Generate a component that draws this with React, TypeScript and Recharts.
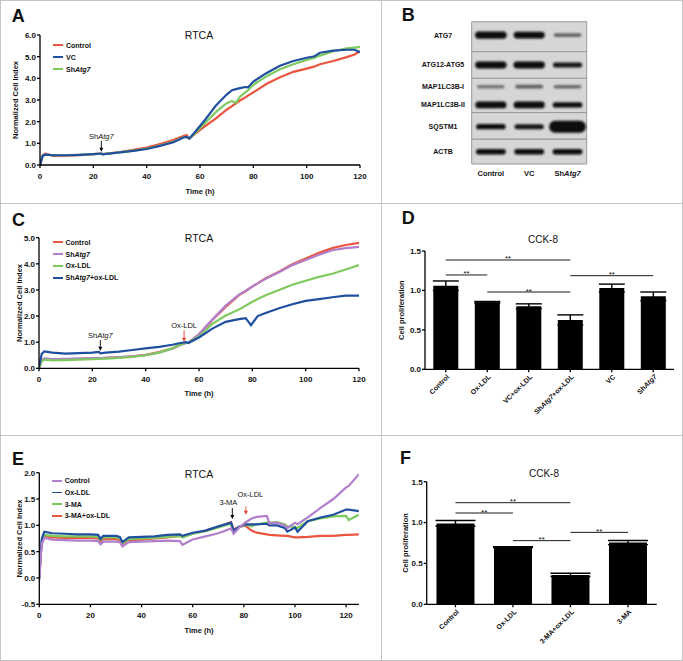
import React from "react";
import {
  Bar,
  BarChart,
  ErrorBar,
  Legend,
  Line,
  LineChart,
  ReferenceArea,
  ReferenceDot,
  ReferenceLine,
  Scatter,
  ScatterChart,
  XAxis,
  YAxis,
} from "recharts";

const FONT = "'Liberation Sans', Arial, Helvetica, sans-serif";
const RED = "#e9553f";
const BLUE = "#1f4f9e";
const GREEN = "#7fca5f";
const PURPLE = "#b17fcc";

// ---------- A: RTCA, control / VC / shAtg7 ----------
const timeA = [0, 1, 2, 5, 10, 15, 20, 23, 23.5, 30, 35, 40, 45, 50, 54, 55, 56, 58, 62, 66, 70, 72, 73.5, 75, 77, 78, 80, 85, 90, 95, 100, 103, 105, 110, 115, 118, 120];
const ctrlA = [0, 0.45, 0.52, 0.42, 0.43, 0.46, 0.5, 0.52, 0.5, 0.6, 0.7, 0.8, 0.97, 1.15, 1.35, 1.38, 1.22, 1.42, 1.8, 2.15, 2.55, 2.72, 2.85, 2.98, 3.12, 3.2, 3.35, 3.75, 4.05, 4.3, 4.45, 4.55, 4.65, 4.8, 4.98, 5.1, 5.25];
const vcA = [0, 0.42, 0.48, 0.45, 0.45, 0.47, 0.5, 0.53, 0.49, 0.58, 0.65, 0.74, 0.88, 1.05, 1.28, 1.3, 1.22, 1.5, 2.1, 2.75, 3.25, 3.45, 3.5, 3.55, 3.6, 3.58, 3.85, 4.25, 4.58, 4.8, 4.95, 5.02, 5.18, 5.28, 5.32, 5.32, 5.2];
const shA = [0, 0.42, 0.47, 0.45, 0.45, 0.47, 0.5, 0.53, 0.5, 0.58, 0.66, 0.75, 0.9, 1.07, 1.28, 1.3, 1.22, 1.45, 1.95, 2.45, 2.85, 2.95, 2.88, 3.15, 3.35, 3.45, 3.7, 4.1, 4.42, 4.65, 4.85, 4.95, 5.05, 5.25, 5.38, 5.42, 5.45];

// ---------- C: RTCA, shAtg7 + ox-LDL ----------
const timeC = [0, 1, 2, 5, 10, 15, 20, 22.5, 23, 25, 30, 35, 40, 45, 50, 53, 55, 56, 60, 65, 70, 75, 77.5, 79.5, 82, 85, 90, 95, 100, 105, 110, 115, 120];
const ctrlC = [0, 0.3, 0.35, 0.34, 0.35, 0.36, 0.38, 0.39, 0.38, 0.4, 0.42, 0.46, 0.52, 0.62, 0.77, 0.9, 0.97, 0.98, 1.3, 1.85, 2.35, 2.8, 2.95, 3.1, 3.25, 3.45, 3.7, 3.98, 4.2, 4.42, 4.6, 4.72, 4.8];
const shC = [0, 0.32, 0.38, 0.35, 0.36, 0.37, 0.39, 0.4, 0.38, 0.4, 0.43, 0.46, 0.5, 0.6, 0.75, 0.88, 0.97, 0.98, 1.3, 1.87, 2.4, 2.82, 2.97, 3.1, 3.25, 3.43, 3.68, 3.95, 4.15, 4.35, 4.52, 4.6, 4.65];
const oxC = [0, 0.28, 0.33, 0.3, 0.31, 0.33, 0.35, 0.36, 0.36, 0.37, 0.4, 0.44, 0.5, 0.6, 0.77, 0.9, 0.97, 0.98, 1.22, 1.7, 2.02, 2.25, 2.4, 2.52, 2.65, 2.8, 3.0, 3.2, 3.35, 3.5, 3.62, 3.78, 3.95];
const shOxC = [0.05, 0.55, 0.65, 0.6, 0.56, 0.58, 0.6, 0.63, 0.57, 0.6, 0.64, 0.7, 0.76, 0.82, 0.9, 0.97, 1.0, 0.97, 1.18, 1.52, 1.78, 1.88, 1.92, 1.65, 2.0, 2.12, 2.3, 2.45, 2.58, 2.65, 2.72, 2.78, 2.78];

// ---------- E: RTCA, 3-MA + ox-LDL ----------
const timeE = [0, 0.5, 1, 2, 5, 10, 15, 20, 23, 24, 25, 30, 31.5, 32.5, 35, 40, 45, 50, 55, 56, 60, 65, 70, 75, 76, 78, 80.5, 83, 85, 89, 90, 93, 96, 97, 100, 101, 105, 110, 115, 120, 121, 125];
const ctrlE = [-0.05, 0.35, 0.65, 0.76, 0.73, 0.72, 0.71, 0.71, 0.7, 0.64, 0.69, 0.69, 0.68, 0.6, 0.68, 0.69, 0.7, 0.71, 0.7, 0.63, 0.73, 0.79, 0.85, 0.94, 0.84, 0.95, 1.05, 1.13, 1.16, 1.18, 1.04, 1.05, 1.0, 0.95, 1.05, 1.02, 1.15, 1.33, 1.5, 1.72, 1.75, 1.97];
const oxE = [0, 0.45, 0.75, 0.88, 0.85, 0.84, 0.83, 0.83, 0.82, 0.74, 0.8, 0.8, 0.78, 0.68, 0.77, 0.78, 0.79, 0.82, 0.83, 0.8, 0.86, 0.9, 0.98, 1.05, 0.9, 0.97, 1.02, 1.02, 1.02, 1.03, 1.0, 1.0, 0.95, 0.88, 0.96, 0.88, 1.08, 1.15, 1.2, 1.3, 1.3, 1.27];
const maE = [0, 0.42, 0.72, 0.82, 0.8, 0.79, 0.79, 0.79, 0.78, 0.72, 0.77, 0.77, 0.75, 0.66, 0.74, 0.75, 0.76, 0.78, 0.8, 0.77, 0.84, 0.89, 0.96, 1.03, 0.9, 0.96, 1.02, 0.98, 1.02, 1.05, 1.05, 1.06, 1.02, 0.98, 0.97, 0.95, 1.08, 1.13, 1.17, 1.18, 1.1, 1.2];
const maOxE = [0, 0.4, 0.7, 0.8, 0.77, 0.76, 0.76, 0.76, 0.75, 0.7, 0.74, 0.74, 0.72, 0.65, 0.72, 0.73, 0.75, 0.77, 0.8, 0.78, 0.84, 0.9, 0.97, 1.06, 0.92, 0.97, 1.0, 0.9, 0.86, 0.83, 0.82, 0.81, 0.8, 0.8, 0.77, 0.77, 0.78, 0.8, 0.8, 0.82, 0.82, 0.83];

const hourTicks = [0, 20, 40, 60, 80, 100, 120];

// treatment arrows: time, tip value, text
const arrowsA = [{ t: 23, v: 0.61, text: "ShAtg7", red: false, dx: 0 }];
const arrowsC = [
  { t: 23, v: 0.67, text: "ShAtg7", red: false, dx: 0 },
  { t: 54.4, v: 1.02, text: "Ox-LDL", red: true, dx: 0 },
];
const arrowsE = [
  { t: 75.5, v: 1.12, text: "3-MA", red: false, dx: -4 },
  { t: 80.8, v: 1.2, text: "Ox-LDL", red: true, dx: 4.5 },
];

// ---------- B: western blot ----------
const blotLanes = ["Control", "VC", "ShAtg7"];
const blotRows = ["ATG7", "ATG12-ATG5", "MAP1LC3B-I", "MAP1LC3B-II", "SQSTM1", "ACTB"];
const blotRowPos = [9.4, 30.4, 45.7, 58.5, 73.8, 91.4];
const blotPanelEdges = [0, 21.1, 39.8, 63.9, 82.6, 100];
const atg7Band = [0.95, 0.85, 0.3];
const atg12Band = [0.9, 0.9, 0.55];
const lc3b1Band = [0.25, 0.32, 0.28];
const lc3b2Band = [0.85, 0.85, 0.6];
const sqstm1Band = [0.6, 0.55, 1.8];
const actbBand = [0.65, 0.65, 0.65];

// ---------- D / F: CCK-8 ----------
const groupsD = ["Control", "Ox-LDL", "VC+ox-LDL", "ShAtg7+ox-LDL", "VC", "ShAtg7"];
const meanD = [1.06, 0.85, 0.8, 0.625, 1.03, 0.925];
const semD = [0.06, 0.01, 0.03, 0.065, 0.05, 0.055];
const sigD = [
  { from: "Control", to: "ShAtg7+ox-LDL", y: 1.386 },
  { from: "Control", to: "Ox-LDL", y: 1.196 },
  { from: "Ox-LDL", to: "ShAtg7+ox-LDL", y: 0.98 },
  { from: "ShAtg7+ox-LDL", to: "ShAtg7", y: 1.187 },
];

const groupsF = ["Control", "Ox-LDL", "3-MA+ox-LDL", "3-MA"];
const meanF = [0.99, 0.7, 0.36, 0.755];
const semF = [0.035, 0.005, 0.02, 0.025];
const sigF = [
  { from: "Control", to: "3-MA+ox-LDL", y: 1.243 },
  { from: "Control", to: "Ox-LDL", y: 1.117 },
  { from: "Ox-LDL", to: "3-MA+ox-LDL", y: 0.779 },
  { from: "3-MA+ox-LDL", to: "3-MA", y: 0.88 },
];

// ---------- helpers ----------
const tickStyle = { fontSize: 8, fontWeight: 700, fill: "#111", fontFamily: FONT };
const axisStroke = { stroke: "#000", strokeWidth: 1.3 };

function Gene({ text }: { text: string }) {
  const parts = text.split(/(Atg7)/);
  return <>{parts.map((s, i) => (s === "Atg7" ? <tspan key={i} fontStyle="italic">{s}</tspan> : <tspan key={i}>{s}</tspan>))}</>;
}
function GeneH({ text }: { text: string }) {
  const parts = text.split(/(Atg7)/);
  return <>{parts.map((s, i) => (s === "Atg7" ? <i key={i}>{s}</i> : <span key={i}>{s}</span>))}</>;
}

const yTitle = (text: string, dx: number) => (p: any) => {
  const vb = p.viewBox || {};
  const x = vb.x + dx;
  const y = vb.y + vb.height / 2;
  return (
    <text x={x} y={y} transform={`rotate(-90 ${x} ${y})`} textAnchor="middle" dominantBaseline="central" fontSize={7.5} fontWeight={700} fontFamily={FONT} fill="#111" stroke="none">
      {text}
    </text>
  );
};
const xTitle = (text: string, dy: number) => (p: any) => {
  const vb = p.viewBox || {};
  return (
    <text x={vb.x + vb.width / 2} y={vb.y + dy} textAnchor="middle" dominantBaseline="central" fontSize={7.5} fontWeight={700} fontFamily={FONT} fill="#111" stroke="none">
      {text}
    </text>
  );
};

function arrowMark(text: string, color: string, dx: number, shaft: number, gap: number) {
  return (p: any) => {
    const { cx, cy } = p;
    return (
      <g>
        <line x1={cx} y1={cy - shaft} x2={cx} y2={cy - 3} stroke={color} strokeWidth={0.9} />
        <path d={`M${cx - 2},${cy - 4} L${cx + 2},${cy - 4} L${cx},${cy} Z`} fill={color} stroke="none" />
        <text x={cx + dx} y={cy - shaft - gap} textAnchor="middle" fontSize={7.5} fontFamily={FONT} fill="#111" stroke="none">
          <Gene text={text} />
        </text>
      </g>
    );
  };
}

function Txt({ x, y, size, bold, left, children }: any) {
  return (
    <div
      style={{
        position: "absolute",
        left: x,
        top: y,
        transform: left ? "translate(0,-50%)" : "translate(-50%,-50%)",
        fontSize: size,
        lineHeight: `${size}px`,
        fontWeight: bold ? 700 : 400,
        whiteSpace: "nowrap",
        color: "#111",
      }}
    >
      {children}
    </div>
  );
}

type Series = { key: string; name: string; color: string };

function LegendBox({ items, rowH }: { items: Series[]; rowH: number }) {
  return (
    <div style={{ fontFamily: FONT, fontSize: 7, fontWeight: 700, color: "#111" }}>
      {items.map((it) => (
        <div key={it.key} style={{ display: "flex", alignItems: "center", height: rowH, whiteSpace: "nowrap" }}>
          <span style={{ display: "inline-block", width: 10, height: 1.7, background: it.color, marginRight: 3 }} />
          <GeneH text={it.name} />
        </div>
      ))}
    </div>
  );
}

function RtcaPanel(props: any) {
  const { top, height, time, series, drawOrder, xMax, yDomain, yTicks, margin, yWidth, legend, arrows, yTitleDx, xTitleDy } = props;
  const rows = time.map((t: number, i: number) => {
    const r: any = { t };
    series.forEach((s: any) => (r[s.key] = s.values[i]));
    return r;
  });
  const byKey: Record<string, any> = {};
  series.forEach((s: any) => (byKey[s.key] = s));
  return (
    <div style={{ position: "absolute", left: 0, top }}>
      <LineChart width={381} height={height} data={rows} margin={margin}>
        <XAxis
          type="number"
          dataKey="t"
          domain={[0, xMax]}
          ticks={hourTicks}
          allowDataOverflow
          height={30}
          tickSize={3}
          tickMargin={5}
          axisLine={axisStroke}
          tickLine={axisStroke}
          tick={tickStyle}
          label={{ content: xTitle("Time (h)", xTitleDy) }}
        />
        <YAxis
          type="number"
          domain={yDomain}
          ticks={yTicks}
          allowDataOverflow
          width={yWidth}
          tickSize={3}
          tickMargin={1}
          axisLine={axisStroke}
          tickLine={axisStroke}
          tick={tickStyle}
          tickFormatter={(v: number) => v.toFixed(1)}
          label={{ content: yTitle("Normalized Cell Index", yTitleDx) }}
        />
        <Legend
          layout="vertical"
          align="center"
          verticalAlign="middle"
          wrapperStyle={{ left: legend.left, top: legend.top, width: 110 }}
          content={() => <LegendBox items={series} rowH={legend.rowH} />}
        />
        {drawOrder.map((k: string) => (
          <Line key={k} type="linear" dataKey={k} stroke={byKey[k].color} strokeWidth={2.2} dot={false} activeDot={false} isAnimationActive={false} />
        ))}
        {arrows.map((a: any, i: number) => (
          <ReferenceDot
            key={i}
            x={a.t}
            y={a.v}
            ifOverflow="visible"
            shape={arrowMark(a.text, a.red ? "#e8402c" : "#000", a.dx, a.shaft ?? 11, a.gap ?? 2)}
          />
        ))}
      </LineChart>
    </div>
  );
}

const RotTick = (p: any) => {
  const { x, y, payload } = p;
  const ax = x + 4;
  const ay = y + 3;
  return (
    <text x={ax} y={ay} textAnchor="end" transform={`rotate(-45 ${ax} ${ay})`} fontSize={7} fontWeight={700} fontFamily={FONT} fill="#111" stroke="none">
      <Gene text={payload.value} />
    </text>
  );
};

function CckPanel(props: any) {
  const { top, height, groups, mean, sem, sig, margin, yWidth, xHeight, gap, capW, yTitleDx } = props;
  const rows = groups.map((g: string, i: number) => ({ name: g, v: mean[i], err: sem[i] }));
  return (
    <div style={{ position: "absolute", left: 381, top }}>
      <BarChart width={302} height={height} data={rows} margin={margin} barCategoryGap={gap}>
        <XAxis dataKey="name" type="category" interval={0} height={xHeight} tickSize={3} tickMargin={2} axisLine={axisStroke} tickLine={axisStroke} tick={<RotTick />} />
        <YAxis
          type="number"
          domain={[0, 1.5]}
          ticks={[0, 0.5, 1, 1.5]}
          allowDataOverflow
          width={yWidth}
          tickSize={3}
          tickMargin={1}
          axisLine={axisStroke}
          tickLine={axisStroke}
          tick={tickStyle}
          tickFormatter={(v: number) => v.toFixed(1)}
          label={{ content: yTitle("Cell proliferation", yTitleDx) }}
        />
        <Bar dataKey="v" fill="#000" isAnimationActive={false}>
          <ErrorBar dataKey="err" width={capW} stroke="#000" strokeWidth={1.4} direction="y" />
        </Bar>
        {sig.map((s: any, i: number) => (
          <ReferenceLine
            key={i}
            segment={[
              { x: s.from, y: s.y },
              { x: s.to, y: s.y },
            ]}
            stroke="#000"
            strokeWidth={0.9}
            label={{ value: "**", position: "top", offset: -1.5, fontSize: 8, fill: "#111", fontFamily: FONT }}
          />
        ))}
      </BarChart>
    </div>
  );
}

const BandShape = (p: any) => {
  const { cx, cy, payload } = p;
  const lvl = payload.lvl;
  const h = 2 + lvl * 5.5;
  const w = 26 + Math.min(lvl, 1.8) * 6;
  const g = Math.max(12, Math.round(190 - 300 * lvl));
  return <rect x={cx - w / 2} y={cy - h / 2} width={w} height={h} rx={h / 2} fill={`rgb(${g},${g},${g})`} stroke="none" filter="url(#blotBlur)" />;
};

function BlotPanel() {
  const levels = [atg7Band, atg12Band, lc3b1Band, lc3b2Band, sqstm1Band, actbBand];
  const bands = blotRows.flatMap((row, r) => levels[r].map((lvl, l) => ({ lane: l + 0.5, pos: blotRowPos[r], lvl, row })));
  return (
    <div style={{ position: "absolute", left: 381, top: 0 }}>
      <ScatterChart width={302} height={203} margin={{ top: 21.7, right: 96.3, bottom: 9, left: 0 }}>
        <defs>
          <filter id="blotBlur" x="-30%" y="-150%" width="160%" height="400%">
            <feGaussianBlur stdDeviation="0.9" />
          </filter>
        </defs>
        <XAxis
          type="number"
          dataKey="lane"
          domain={[0, 3]}
          ticks={[0.5, 1.5, 2.5]}
          interval={0}
          height={30}
          axisLine={false}
          tickLine={false}
          tick={(p: any) => (
            <text x={p.x} y={p.y + 1} textAnchor="middle" dominantBaseline="central" fontSize={7.5} fontWeight={700} fontFamily={FONT} fill="#111" stroke="none">
              <Gene text={blotLanes[Math.floor(p.payload.value)]} />
            </text>
          )}
        />
        <YAxis
          type="number"
          dataKey="pos"
          domain={[0, 100]}
          reversed
          ticks={blotRowPos}
          interval={0}
          width={90.7}
          axisLine={false}
          tickLine={false}
          tick={(p: any) => (
            <text x={62} y={p.y} textAnchor="middle" dominantBaseline="central" fontSize={7} fontWeight={700} fontFamily={FONT} fill="#111" stroke="none">
              {blotRows[blotRowPos.indexOf(p.payload.value)]}
            </text>
          )}
        />
        {blotPanelEdges.slice(0, -1).map((e, i) => (
          <ReferenceArea key={i} x1={0} x2={3} y1={e} y2={blotPanelEdges[i + 1]} fill="#d6d6d6" fillOpacity={1} stroke="#9a9a9a" strokeWidth={1} />
        ))}
        <Scatter data={bands} shape={<BandShape />} isAnimationActive={false} />
      </ScatterChart>
    </div>
  );
}

const seriesA: Series[] = [
  { key: "ctrl", name: "Control", color: RED },
  { key: "vc", name: "VC", color: BLUE },
  { key: "sh", name: "ShAtg7", color: GREEN },
];
const seriesC: Series[] = [
  { key: "ctrl", name: "Control", color: RED },
  { key: "sh", name: "ShAtg7", color: PURPLE },
  { key: "ox", name: "Ox-LDL", color: GREEN },
  { key: "shox", name: "ShAtg7+ox-LDL", color: BLUE },
];
const seriesE: Series[] = [
  { key: "ctrl", name: "Control", color: PURPLE },
  { key: "ox", name: "Ox-LDL", color: BLUE },
  { key: "ma", name: "3-MA", color: GREEN },
  { key: "maox", name: "3-MA+ox-LDL", color: RED },
];

export default function App() {
  const line = "#c4c4c4";
  return (
    <div style={{ position: "absolute", left: 0, top: 0, width: 683, height: 661, background: "#fff", fontFamily: FONT, overflow: "hidden" }}>
      <div style={{ position: "absolute", left: 0, top: 0, width: 681, height: 659, border: `1px solid ${line}` }} />
      <div style={{ position: "absolute", left: 381, top: 0, width: 1, height: 661, background: line }} />
      <div style={{ position: "absolute", left: 0, top: 203, width: 683, height: 1, background: line }} />
      <div style={{ position: "absolute", left: 0, top: 435, width: 683, height: 1, background: line }} />

      <RtcaPanel
        top={0}
        height={203}
        time={timeA}
        series={[
          { ...seriesA[0], values: ctrlA },
          { ...seriesA[1], values: vcA },
          { ...seriesA[2], values: shA },
        ]}
        drawOrder={["ctrl", "sh", "vc"]}
        xMax={120}
        yDomain={[0, 6]}
        yTicks={[0, 1, 2, 3, 4, 5, 6]}
        margin={{ top: 35, right: 21, bottom: 8, left: 0 }}
        yWidth={40}
        legend={{ left: 53, top: 39, rowH: 12 }}
        arrows={arrowsA.map((a) => ({ ...a, shaft: 11, gap: 1.5 }))}
        yTitleDx={15.7}
        xTitleDy={26}
      />
      <BlotPanel />
      <RtcaPanel
        top={203}
        height={232}
        time={timeC}
        series={[
          { ...seriesC[0], values: ctrlC },
          { ...seriesC[1], values: shC },
          { ...seriesC[2], values: oxC },
          { ...seriesC[3], values: shOxC },
        ]}
        drawOrder={["ctrl", "sh", "ox", "shox"]}
        xMax={120}
        yDomain={[0, 5]}
        yTicks={[0, 1, 2, 3, 4, 5]}
        margin={{ top: 34.7, right: 22, bottom: 36.7, left: 0 }}
        yWidth={39}
        legend={{ left: 52.5, top: 33.4, rowH: 11.8 }}
        arrows={arrowsC.map((a) => ({ ...a, shaft: a.red ? 11.5 : 10.7, gap: 2.3 }))}
        yTitleDx={19.3}
        xTitleDy={24.7}
      />
      <CckPanel
        top={203}
        height={232}
        groups={groupsD}
        mean={meanD}
        sem={semD}
        sig={sigD}
        margin={{ top: 48, right: 9, bottom: 5.7, left: 0 }}
        yWidth={44}
        xHeight={60}
        gap="20%"
        capW={13}
        yTitleDx={21}
      />
      <RtcaPanel
        top={435}
        height={226}
        time={timeE}
        series={[
          { ...seriesE[0], values: ctrlE },
          { ...seriesE[1], values: oxE },
          { ...seriesE[2], values: maE },
          { ...seriesE[3], values: maOxE },
        ]}
        drawOrder={["maox", "ma", "ox", "ctrl"]}
        xMax={125}
        yDomain={[-0.5, 2]}
        yTicks={[-0.5, 0, 0.5, 1, 1.5, 2]}
        margin={{ top: 37.7, right: 22.1, bottom: 26.7, left: 0 }}
        yWidth={39.3}
        legend={{ left: 51.7, top: 40.2, rowH: 11.6 }}
        arrows={arrowsE.map((a) => ({ ...a, shaft: a.red ? 8.3 : 11, gap: a.red ? 10 : 3 }))}
        yTitleDx={19.3}
        xTitleDy={26.4}
      />
      <CckPanel
        top={435}
        height={226}
        groups={groupsF}
        mean={meanF}
        sem={semF}
        sig={sigF}
        margin={{ top: 46.7, right: 26.3, bottom: 6.7, left: 0 }}
        yWidth={45.7}
        xHeight={50}
        gap="17%"
        capW={20}
        yTitleDx={24}
      />

      <Txt x={11.7} y={16.3} size={18} bold left>A</Txt>
      <Txt x={401.7} y={15} size={18} bold left>B</Txt>
      <Txt x={12} y={220} size={18} bold left>C</Txt>
      <Txt x={401.7} y={218} size={18} bold left>D</Txt>
      <Txt x={12} y={459} size={18} bold left>E</Txt>
      <Txt x={400} y={458} size={18} bold left>F</Txt>

      <Txt x={199} y={35} size={10.5}>RTCA</Txt>
      <Txt x={199} y={238.3} size={10.5}>RTCA</Txt>
      <Txt x={199} y={474} size={10.5}>RTCA</Txt>
      <Txt x={543} y={240} size={10}>CCK-8</Txt>
      <Txt x={544} y={474} size={10}>CCK-8</Txt>
    </div>
  );
}
